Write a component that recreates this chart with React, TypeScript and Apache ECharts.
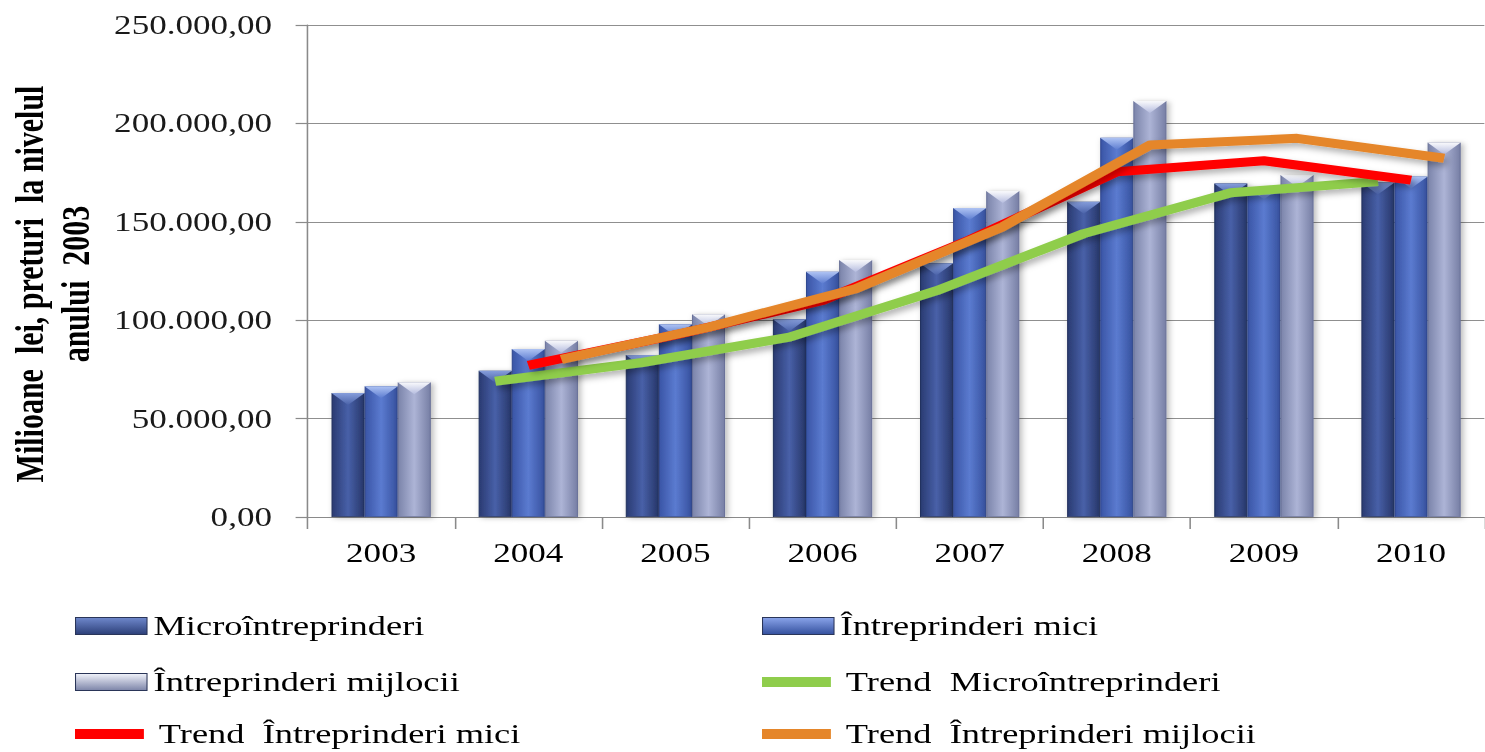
import React, { useEffect, useRef } from 'react';
import * as echarts from 'echarts';

// ---------- data ----------
const years = ['2003', '2004', '2005', '2006', '2007', '2008', '2009', '2010'];
const microValues = [63000, 74300, 82300, 100500, 128900, 160200, 169500, 170000];
const miciValues = [66500, 85400, 98000, 124600, 157000, 192700, 167500, 173000];
const mijlociiValues = [68500, 89600, 103000, 130600, 165600, 211400, 173800, 190300];
// trend (moving average) values, years 2004..2010
const trendYears = ['2004', '2005', '2006', '2007', '2008', '2009', '2010'];
const trendMicroValues = [69000, 78500, 91400, 115000, 144000, 164800, 170500];
const trendMiciValues = [77000, 92500, 110000, 140800, 175400, 181000, 171200];
const trendMijlociiValues = [80100, 96400, 116000, 147500, 189000, 192400, 182300];

const NAME_MICRO = 'Microîntreprinderi';
const NAME_MICI = 'Întreprinderi mici';
const NAME_MIJ = 'Întreprinderi mijlocii';
const NAME_T_MICRO = 'Trend  Microîntreprinderi';
const NAME_T_MICI = 'Trend  Întreprinderi mici';
const NAME_T_MIJ = 'Trend  Întreprinderi mijlocii';
const Y_TITLE = 'Milioane  lei, preturi  la nivelul\nanului  2003';

// ---------- layout ----------
const K = 1.3; // horizontal stretch of the original picture
const W = 1485 / K;
const H = 752;
const FONT = "'Liberation Serif', 'Times New Roman', serif";
const BAR_W = '22.5%';
const OFFSETS = [-0.225, 0, 0.225];

const fmt = (v: number) =>
  Math.round(v).toString().replace(/\B(?=(\d{3})+(?!\d))/g, '.') + ',00';

const hgrad = (edge: string, mid: string, edge2: string) =>
  new echarts.graphic.LinearGradient(0, 0, 1, 0, [
    { offset: 0, color: edge },
    { offset: 0.5, color: mid },
    { offset: 1, color: edge2 },
  ]);
const vgrad = (top: string, bottom: string) =>
  new echarts.graphic.LinearGradient(0, 0, 0, 1, [
    { offset: 0, color: top },
    { offset: 1, color: bottom },
  ]);

const barStyles = [
  { name: NAME_MICRO, data: microValues, color: hgrad('#2a3b72', '#4860a8', '#27376a'), border: '#22325f', cap: vgrad('#8aa2e0', '#4a62a8'), legendColor: vgrad('#6f88cc', '#2c3f78') },
  { name: NAME_MICI, data: miciValues, color: hgrad('#3a55a6', '#5b7bd0', '#3752a0'), border: '#2f4890', cap: vgrad('#b4c8f6', '#5c7cd0'), legendColor: vgrad('#8aa4ea', '#34509e') },
  { name: NAME_MIJ, data: mijlociiValues, color: hgrad('#7b84aa', '#adb4d6', '#777fa5'), border: '#6a7299', cap: vgrad('#ffffff', '#b6bde0'), legendColor: vgrad('#f2f4fc', '#7c84a8') },
];

const lineStyles = [
  { name: NAME_T_MICRO, data: trendMicroValues, color: '#8fcd4c', off: OFFSETS[0] },
  { name: NAME_T_MICI, data: trendMiciValues, color: '#ff0000', off: OFFSETS[1] },
  { name: NAME_T_MIJ, data: trendMijlociiValues, color: '#e5862a', off: OFFSETS[2] },
];

const col1 = 75 / K;
const col2 = 762 / K;
const rowTop = [611, 667, 719];
const legendPlacement = [
  { name: NAME_MICRO, left: col1, top: rowTop[0], bar: 0 },
  { name: NAME_MICI, left: col2, top: rowTop[0], bar: 1 },
  { name: NAME_MIJ, left: col1, top: rowTop[1], bar: 2 },
  { name: NAME_T_MICRO, left: col2, top: rowTop[1], line: 0 },
  { name: NAME_T_MICI, left: col1, top: rowTop[2], line: 1 },
  { name: NAME_T_MIJ, left: col2, top: rowTop[2], line: 2 },
];

function buildOption() {
  const series: any[] = [];
  barStyles.forEach((b) => {
    series.push({
      type: 'bar',
      name: b.name,
      data: b.data,
      barWidth: BAR_W,
      barGap: '0%',
      itemStyle: {
        color: b.color,
        borderColor: b.border,
        borderWidth: 0.8,
        shadowColor: 'rgba(0,0,0,0.28)',
        shadowBlur: 5,
        shadowOffsetX: 2,
        shadowOffsetY: 1,
      },
      z: 2,
    });
  });
  barStyles.forEach((b) => {
    series.push({
      type: 'pictorialBar',
      data: b.data,
      symbol: 'path://M0,0L20,0L10,6Z',
      symbolSize: ['100%', 12],
      symbolPosition: 'end',
      barWidth: BAR_W,
      barGap: '0%',
      itemStyle: { color: b.cap, opacity: 0.95 },
      silent: true,
      z: 3,
    });
  });
  lineStyles.forEach((l) => {
    series.push({
      type: 'line',
      name: l.name,
      xAxisIndex: 1,
      data: l.data.map((v, i) => [years.indexOf(trendYears[i]) + l.off, v]),
      symbol: 'none',
      showSymbol: false,
      lineStyle: {
        color: l.color,
        width: 9,
        join: 'round',
        cap: 'butt',
        shadowColor: 'rgba(0,0,0,0.3)',
        shadowBlur: 6,
        shadowOffsetX: 2,
        shadowOffsetY: 4,
      },
      itemStyle: { color: l.color },
      z: 5,
    });
  });

  const legends = legendPlacement.map((p) => {
    const isBar = p.bar !== undefined;
    const itemStyle = isBar
      ? { color: barStyles[p.bar as number].legendColor, borderColor: '#2a3558', borderWidth: 0.8 }
      : { color: lineStyles[p.line as number].color };
    return {
      show: true,
      orient: 'vertical',
      left: p.left,
      top: p.top,
      padding: 0,
      selectedMode: false,
      itemWidth: isBar ? 55 : 53,
      itemHeight: isBar ? 17 : 10,
      formatter: isBar ? '{name}' : ' {name}',
      textStyle: { fontFamily: FONT, fontSize: 28, color: '#000', lineHeight: 30 },
      data: [{ name: p.name, icon: 'rect', itemStyle }],
    };
  });

  return {
    animation: false,
    backgroundColor: '#ffffff',
    grid: { left: 307.6 / K, top: 25, width: (8 * 148.6) / K, height: 492, containLabel: false },
    legend: legends,
    xAxis: [
      {
        type: 'category',
        data: years,
        boundaryGap: true,
        axisLine: { show: true, onZero: false, lineStyle: { color: '#8a8a8a', width: 1.2 } },
        axisTick: { show: true, length: 12, lineStyle: { color: '#8a8a8a', width: 1.2 } },
        axisLabel: { fontFamily: FONT, fontSize: 27, color: '#000', margin: 22 },
        splitLine: { show: false },
      },
      {
        type: 'value',
        min: -0.5,
        max: 7.5,
        show: false,
        position: 'bottom',
        axisLine: { show: false, onZero: false },
        splitLine: { show: false },
      },
    ],
    yAxis: {
      type: 'value',
      min: 0,
      max: 250000,
      interval: 50000,
      axisLine: { show: true, onZero: false, lineStyle: { color: '#8a8a8a', width: 1.2 } },
      axisTick: { show: true, inside: false, length: 12 / K, lineStyle: { color: '#8a8a8a', width: 1.2 } },
      axisLabel: { fontFamily: FONT, fontSize: 27, color: '#1a1a1a', margin: (307.6 - 272) / K, formatter: fmt },
      splitLine: { show: true, lineStyle: { color: '#8f8f8f', width: 1.2 } },
    },
    graphic: [
      {
        type: 'text',
        x: 53 / K,
        y: 284,
        rotation: Math.PI / 2,
        style: {
          text: Y_TITLE,
          fontFamily: FONT,
          fontWeight: 'bold',
          fontSize: 30,
          lineHeight: 35,
          fill: '#000',
          align: 'center',
          verticalAlign: 'middle',
        },
      },
    ],
    series,
  };
}

export default function App() {
  const ref = useRef<HTMLDivElement>(null);
  useEffect(() => {
    if (!ref.current) return;
    const chart = echarts.init(ref.current, undefined, { renderer: 'svg' });
    chart.setOption(buildOption() as any);
    return () => chart.dispose();
  }, []);
  return (
    <div
      ref={ref}
      style={{
        position: 'fixed',
        left: 0,
        top: 0,
        width: W,
        height: H,
        transform: `scaleX(${K})`,
        transformOrigin: '0 0',
        background: '#fff',
        overflow: 'hidden',
      }}
    />
  );
}
